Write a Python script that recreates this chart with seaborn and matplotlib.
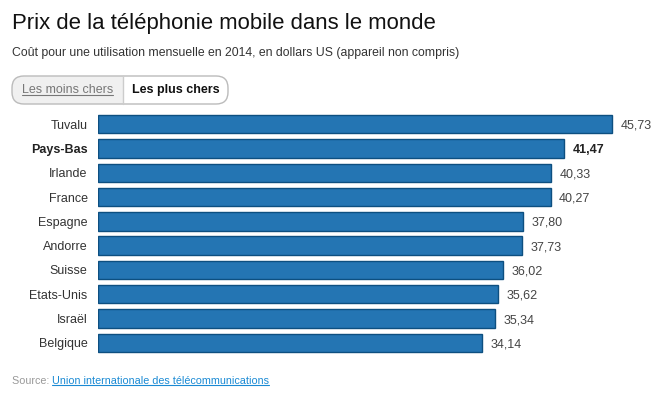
import matplotlib
matplotlib.use('Agg')
import matplotlib.pyplot as plt
from matplotlib.patches import FancyBboxPatch, Rectangle
from matplotlib.lines import Line2D
import seaborn as sns
import pandas as pd

# ==================== 数据 ====================
pays = ['Tuvalu', 'Pays-Bas', 'Irlande', 'France', 'Espagne',
        'Andorre', 'Suisse', 'Etats-Unis', 'Israël', 'Belgique']
prix = [45.73, 41.47, 40.33, 40.27, 37.80, 37.73, 36.02, 35.62, 35.34, 34.14]
highlight = 'Pays-Bas'

titre = 'Prix de la téléphonie mobile dans le monde'
sous_titre = 'Coût pour une utilisation mensuelle en 2014, en dollars US (appareil non compris)'
bouton_gauche = 'Les moins chers'
bouton_droit = 'Les plus chers'
source_lien = 'Union internationale des télécommunications'

df = pd.DataFrame({'pays': pays, 'prix': prix})

sns.set_style('white')
plt.rcParams['font.family'] = ['Liberation Sans', 'DejaVu Sans']

W, H = 659, 393
fig = plt.figure(figsize=(W / 100, H / 100), dpi=100)
ax = fig.add_axes([98 / W, 1 - 355 / H, (W - 98) / W, (355 - 112) / H])

sns.barplot(data=df, x='prix', y='pays', orient='h', color='#2475b3',
            saturation=1, width=0.76, edgecolor='#0d4f80', linewidth=1, ax=ax)
ax.set_xlim(0, (W - 98) / 11.24)
ax.set_ylim(9.5, -0.5)
ax.set_xlabel('')
ax.set_ylabel('')
ax.set_xticks([])
ax.tick_params(axis='y', length=0, pad=7.5, labelsize=9, labelcolor='#333333')
for lab in ax.get_yticklabels():
    if lab.get_text() == highlight:
        lab.set_fontweight('bold')
        lab.set_color('#222222')
sns.despine(ax=ax, left=True, bottom=True)

for i, v in enumerate(prix):
    bold = pays[i] == highlight
    ax.text(v + 0.75, i, f'{v:.2f}'.replace('.', ','), va='center_baseline', ha='left',
            fontsize=9, color='#222222' if bold else '#444444',
            fontweight='bold' if bold else 'normal')

# ==================== 标题 ====================
fig.text(12 / W, 1 - 24 / H, titre, fontsize=15.9, color='#111111', va='center')
fig.text(12 / W, 1 - 53 / H, sous_titre, fontsize=8.85, color='#333333', va='center')

# ==================== 按钮 ====================
bx0, bx1, bdiv, by0, by1 = 12, 228, 123, 76, 104
left_bg = Rectangle((bx0 / W, 1 - by1 / H), (bdiv - bx0) / W, (by1 - by0) / H,
                    transform=fig.transFigure, facecolor='#f0f0f0', edgecolor='none')
box = FancyBboxPatch((bx0 / W, 1 - by1 / H), (bx1 - bx0) / W, (by1 - by0) / H,
                     boxstyle='round,pad=0,rounding_size=0.018',
                     transform=fig.transFigure, facecolor='none',
                     edgecolor='#bbbbbb', linewidth=1, mutation_aspect=W / H)
left_bg.set_clip_path(box)
fig.add_artist(left_bg)
fig.add_artist(box)
fig.add_artist(Line2D([bdiv / W, bdiv / W], [1 - by1 / H, 1 - by0 / H],
                      transform=fig.transFigure, color='#cccccc', linewidth=1))

t_left = fig.text(((bx0 + bdiv) / 2) / W, 1 - 90 / H, bouton_gauche, fontsize=9,
                  color='#777777', ha='center', va='center')
fig.text(((bdiv + bx1) / 2) / W, 1 - 90 / H, bouton_droit, fontsize=9,
         color='#111111', ha='center', va='center', fontweight='bold')

# ==================== 来源 ====================
t_src = fig.text(12 / W, 1 - 381 / H, 'Source: ', fontsize=7.75, color='#999999', va='center')
fig.canvas.draw()
renderer = fig.canvas.get_renderer()
bb = t_src.get_window_extent(renderer)
t_link = fig.text(bb.x1 / W, 1 - 381 / H, source_lien, fontsize=7.75, color='#1a8ad4', va='center')
fig.canvas.draw()


def underline(t, color):
    e = t.get_window_extent(renderer)
    y = (e.y0 + 1) / H
    fig.add_artist(Line2D([e.x0 / W, e.x1 / W], [y, y], transform=fig.transFigure,
                          color=color, linewidth=0.8))


underline(t_link, '#1a8ad4')
underline(t_left, '#777777')

fig.savefig('out.png', dpi=100)
plt.close(fig)
